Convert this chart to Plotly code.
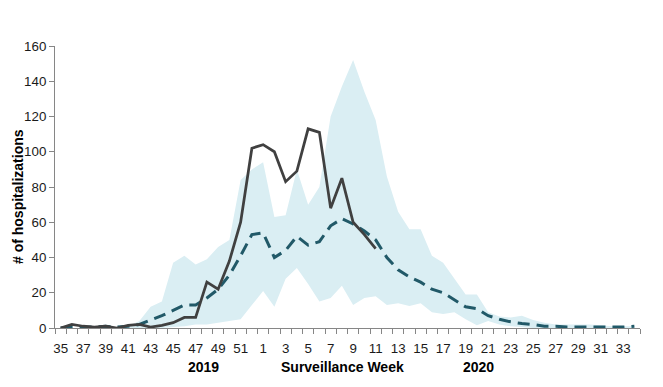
import plotly.graph_objects as go

weeks = list(range(35, 53)) + list(range(1, 35))

current_season = [0, 2, 1, 0.5, 1, 0, 1.5, 2, 0.5, 1.5, 3, 6, 6, 26, 22, 38, 60, 102,
                  104, 100, 83, 89, 113, 111, 68, 85, 60, 53, 45]

average = [0, 0.5, 0.5, 0.5, 1, 0.5, 1, 2, 4.5, 7, 10, 13, 13, 17, 22, 30, 41, 53,
           54, 40, 44, 52, 47, 49, 58, 62, 59, 55, 50, 40, 33, 29, 26, 22, 20, 16,
           12, 11, 7, 5, 3.5, 2.5, 2, 1, 1, 0.5, 0.5, 0.5, 0.5, 0.5, 0.5, 1]

upper = [0, 0, 0, 0, 0.5, 0.5, 1, 4, 12, 15, 37, 41, 36, 39, 46, 50, 84, 90,
         94, 63, 64, 90, 70, 80, 120, 137, 152, 134, 118, 86, 66, 56, 56, 41, 37, 28,
         19, 19, 9, 6.5, 6, 7, 4.5, 3, 2, 2, 2, 2, 1.5, 1, 1, 1]

lower = [0, 0, 0, 0, 0, 0, 0, 0, 0, 0, 0.5, 1, 2, 2, 3, 4, 5, 13,
         21, 12, 28, 34, 25, 15, 17, 24, 13, 17, 18, 13, 14, 12.5, 14, 9, 8, 9,
         5, 1.5, 4, 2, 1, 0.5, 0, 0, 0, 0, 0, 0, 0, 0, 0, 0]

y_ticks = [0, 20, 40, 60, 80, 100, 120, 140, 160]

x = list(range(len(weeks)))
FONT = "Liberation Sans, Arial, sans-serif"

fig = go.Figure()
fig.add_trace(go.Scatter(
    x=x + x[::-1], y=upper + lower[::-1], fill="toself",
    fillcolor="#DAEEF3", line=dict(width=0), mode="lines", hoverinfo="skip",
    showlegend=False))
fig.add_trace(go.Scatter(
    x=x, y=average, mode="lines",
    line=dict(color="#215968", width=3, dash="12px,7px"), showlegend=False))
fig.add_trace(go.Scatter(
    x=x[:len(current_season)], y=current_season, mode="lines",
    line=dict(color="#404040", width=2.75), showlegend=False))

fig.update_layout(
    width=647, height=371,
    margin=dict(l=47, r=15, t=38, b=51),
    paper_bgcolor="white", plot_bgcolor="white",
    font=dict(family=FONT, size=13.33, color="#1a1a1a"),
    xaxis=dict(
        range=[-0.5, len(weeks) - 0.5],
        tickmode="array", tickvals=x[::2], ticktext=[str(w) for w in weeks[::2]],
        ticks="outside", ticklen=8, tickcolor="rgba(0,0,0,0)",
        showline=True, linecolor="#868686", linewidth=1,
        showgrid=False, zeroline=False,
        minor=dict(tick0=-0.5, dtick=1, ticks="outside", ticklen=5,
                   tickcolor="#868686", showgrid=False),
        tickfont=dict(size=13.33),
    ),
    yaxis=dict(
        range=[0, 160], tickmode="array", tickvals=y_ticks,
        ticks="outside", ticklen=5, tickcolor="#868686",
        showline=True, linecolor="#868686", linewidth=1,
        showgrid=False, zeroline=False, tickfont=dict(size=13.33),
    ),
    annotations=[
        dict(text="<b># of hospitalizations</b>", textangle=-90, xref="paper", yref="paper",
             x=-0.063, y=0.465, showarrow=False, font=dict(size=14, color="#000000"),
             xanchor="center", yanchor="middle"),
        dict(text="<b>2019</b>", xref="paper", yref="paper", x=0.224, y=-0.137,
             showarrow=False, font=dict(size=14, color="#000000"), yanchor="middle"),
        dict(text="<b>Surveillance Week</b>", xref="paper", yref="paper", x=0.492, y=-0.137,
             showarrow=False, font=dict(size=14, color="#000000"), yanchor="middle"),
        dict(text="<b>2020</b>", xref="paper", yref="paper", x=0.754, y=-0.137,
             showarrow=False, font=dict(size=14, color="#000000"), yanchor="middle"),
    ],
)

fig.write_html("out.html")
